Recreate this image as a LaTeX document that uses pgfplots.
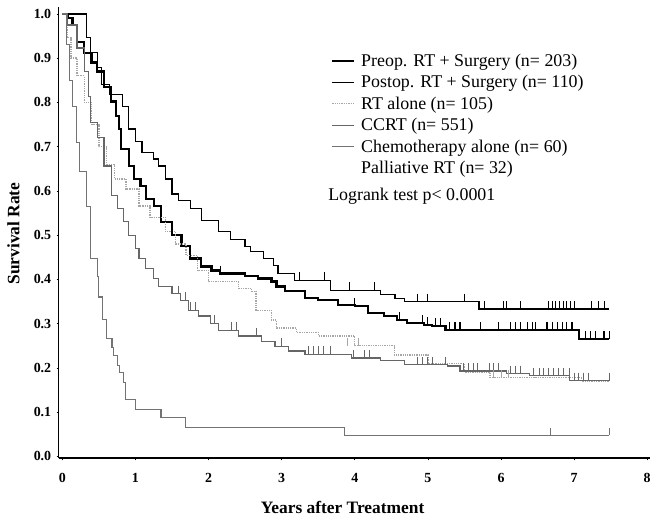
\documentclass[border=0pt]{standalone}
\usepackage{fontspec}
\setmainfont{Liberation Serif}
\usepackage{pgfplots}
\pgfplotsset{compat=1.18}
\begin{document}
\begin{tikzpicture}
\begin{axis}[
  name=ax,
  scale only axis, width=595pt, height=454pt,
  xmin=-0.05, xmax=8.04, ymin=-0.0045, ymax=1.0157,
  axis x line=bottom, axis y line=left,
  axis line style={-, line width=1.6pt},
  xtick={0,1,...,8}, ytick={0,0.1,...,1.0},
  tick style={black, line width=0.6pt}, tick align=outside, major tick length=2pt,
  tick label style={font=\fontsize{14}{14}\selectfont\bfseries},
  /pgf/number format/assume math mode=true,
  yticklabel style={xshift=-2pt, /pgf/number format/.cd, fixed, fixed zerofill, precision=1},
  xticklabel style={yshift=-10pt, /pgf/number format/.cd, fixed, precision=0},
  xlabel={Years after Treatment}, ylabel={Survival Rate},
  label style={font=\fontsize{17.5}{17.5}\selectfont\bfseries},
  xlabel style={at={(axis description cs:0.48,-0.110)}, anchor=center},
  ylabel style={at={(axis description cs:-0.0765,0.498)}, anchor=center},
  legend style={at={(axis cs:3.675,0.915)}, anchor=north west, draw=none, fill=none,
    inner sep=0pt, font=\fontsize{18}{18}\selectfont, row sep=3.7pt},
  legend cell align=left,
  legend image code/.code={\draw[#1] (0pt,0pt) -- (22pt,0pt); \path (26pt,0pt);},
]
% Preop RT + Surgery
\addplot[const plot, black, line width=2.2pt] coordinates {
(0,1.000)(0.07,0.990)(0.14,0.975)(0.20,0.937)(0.30,0.912)(0.40,0.890)(0.48,0.870)
(0.57,0.834)(0.67,0.802)(0.73,0.770)(0.78,0.740)(0.80,0.694)(0.91,0.656)(0.98,0.627)
(1.07,0.611)(1.14,0.582)(1.25,0.566)(1.35,0.530)(1.50,0.500)(1.63,0.476)(1.75,0.447)
(1.90,0.429)(2.04,0.420)(2.16,0.413)(2.50,0.407)(2.68,0.402)(2.86,0.395)(2.93,0.384)
(3.05,0.373)(3.32,0.357)(3.50,0.353)(3.77,0.342)(4.00,0.339)(4.18,0.324)(4.40,0.317)
(4.58,0.308)(4.72,0.301)(4.95,0.297)(5.06,0.294)(5.24,0.285)(7.07,0.265)(7.48,0.265)};
\addlegendentry{Preop. RT + Surgery (n= 203)}
% Postop RT + Surgery
\addplot[const plot, black, line width=1.2pt] coordinates {
(0,1.000)(0.33,0.946)(0.39,0.912)(0.48,0.879)(0.54,0.840)(0.64,0.818)(0.82,0.790)
(0.90,0.740)(1.00,0.712)(1.09,0.687)(1.25,0.672)(1.32,0.656)(1.41,0.627)(1.50,0.593)
(1.59,0.578)(1.75,0.560)(1.90,0.533)(2.14,0.508)(2.30,0.490)(2.50,0.474)(2.57,0.463)
(2.75,0.447)(2.89,0.431)(2.95,0.413)(3.18,0.398)(3.67,0.375)(4.35,0.366)(4.55,0.356)
(4.68,0.350)(5.70,0.333)(7.48,0.333)};
\addlegendentry{Postop. RT + Surgery (n= 110)}
% RT alone
\addplot[const plot, black!35, densely dotted, line width=1.3pt] coordinates {
(0,1.000)(0.07,0.946)(0.12,0.900)(0.20,0.860)(0.30,0.800)(0.40,0.750)(0.50,0.700)
(0.60,0.660)(0.71,0.627)(0.87,0.604)(1.05,0.566)(1.20,0.540)(1.41,0.508)(1.55,0.480)
(1.69,0.454)(1.85,0.420)(2.00,0.395)(2.41,0.380)(2.59,0.373)(2.65,0.330)(2.86,0.308)
(2.93,0.290)(3.20,0.280)(3.50,0.272)(4.00,0.250)(4.54,0.229)(5.00,0.210)(5.50,0.190)
(5.85,0.178)(7.10,0.170)(7.48,0.170)};
\addlegendentry{RT alone (n= 105)}
% CCRT
\addplot[const plot, black!60, line width=1.2pt] coordinates {
(0,1.000)(0.07,0.975)(0.20,0.923)(0.30,0.870)(0.36,0.814)(0.39,0.755)(0.48,0.721)
(0.57,0.656)(0.67,0.589)(0.75,0.560)(0.84,0.530)(0.91,0.500)(1.00,0.470)(1.05,0.447)
(1.14,0.425)(1.25,0.402)(1.32,0.384)(1.50,0.368)(1.62,0.353)(1.73,0.330)(1.86,0.317)
(2.03,0.301)(2.14,0.285)(2.41,0.272)(2.72,0.260)(2.91,0.249)(3.09,0.238)(3.32,0.231)
(3.95,0.222)(4.35,0.216)(4.68,0.207)(5.27,0.204)(5.44,0.193)(6.08,0.187)(6.39,0.182)
(6.94,0.171)(7.48,0.171)};
\addlegendentry{CCRT (n= 551)}
% Chemotherapy alone
\addplot[const plot, black!55, line width=1.1pt] coordinates {
(0,1.000)(0.06,0.930)(0.10,0.850)(0.14,0.790)(0.19,0.710)(0.23,0.643)(0.33,0.564)
(0.39,0.447)(0.48,0.407)(0.50,0.360)(0.55,0.310)(0.60,0.267)(0.68,0.245)(0.70,0.227)
(0.75,0.205)(0.78,0.189)(0.84,0.166)(0.87,0.128)(1.00,0.106)(1.35,0.088)(1.69,0.065)
(3.86,0.047)(7.48,0.047)};
\addlegendentry{Chemotherapy alone (n= 60)}
\addlegendimage{draw opacity=0}
\addlegendentry{Palliative RT (n= 32)}
% censor marks
\addplot[forget plot, only marks, mark=|, mark size=4pt, mark options={black, line width=1.2pt, yshift=4pt}] coordinates {
(1.50,0.500)(2.16,0.413)(4.00,0.339)(4.18,0.324)(4.61,0.308)(4.93,0.301)(4.99,0.297)
(5.10,0.294)(5.17,0.294)(5.30,0.285)(5.37,0.285)(5.44,0.285)(5.72,0.285)(5.97,0.285)
(6.13,0.285)(6.20,0.285)(6.27,0.285)(6.36,0.285)(6.43,0.285)(6.47,0.285)(6.63,0.285)
(6.70,0.285)(6.77,0.285)(6.84,0.285)(6.90,0.285)(6.97,0.285)(7.16,0.265)(7.22,0.265)
(7.29,0.265)(7.41,0.265)(7.48,0.265)};
\addplot[forget plot, only marks, mark=|, mark size=4pt, mark options={black, line width=0.9pt, yshift=4pt}] coordinates {
(3.25,0.398)(3.59,0.398)(3.93,0.375)(4.27,0.375)(4.86,0.350)(5.00,0.350)(5.50,0.350)
(5.77,0.333)(6.03,0.333)(6.08,0.333)(6.27,0.333)(6.65,0.333)(6.70,0.333)(6.75,0.333)
(6.80,0.333)(6.85,0.333)(6.90,0.333)(6.95,0.333)(7.00,0.333)(7.24,0.333)(7.33,0.333)
(7.42,0.333)};
\addplot[forget plot, only marks, mark=|, mark size=4pt, mark options={black!60, line width=0.9pt, yshift=4pt}] coordinates {
(1.59,0.368)(1.68,0.353)(1.75,0.330)(1.82,0.330)(2.08,0.301)(2.31,0.285)(2.38,0.285)
(2.66,0.272)(3.00,0.249)(3.36,0.231)(3.43,0.231)(3.50,0.231)(3.57,0.231)(3.67,0.231)
(3.98,0.222)(4.13,0.222)(4.20,0.222)(4.86,0.207)(4.93,0.207)(5.00,0.207)(5.06,0.207)
(5.24,0.207)(5.48,0.193)(5.55,0.193)(5.62,0.193)(5.68,0.193)(5.84,0.193)(5.90,0.193)
(5.97,0.193)(6.13,0.187)(6.20,0.187)(6.27,0.187)(6.45,0.182)(6.52,0.182)(6.58,0.182)
(6.65,0.182)(6.72,0.182)(6.79,0.182)(6.86,0.182)(6.93,0.182)(7.00,0.171)(7.06,0.171)
(7.13,0.171)(7.20,0.171)(7.48,0.171)};
\addplot[forget plot, only marks, mark=|, mark size=4pt, mark options={black!35, line width=0.9pt, yshift=4pt}] coordinates {
(3.90,0.250)(4.05,0.250)(5.90,0.178)(6.00,0.178)(6.10,0.178)};
\addplot[forget plot, only marks, mark=|, mark size=4pt, mark options={black!55, line width=0.9pt, yshift=4pt}] coordinates {
(6.67,0.047)(7.48,0.047)};
\end{axis}
\node[anchor=west, inner sep=0pt, font=\fontsize{18}{18}\selectfont] at ([shift={(271pt,264pt)}]ax.south west) {Logrank test p< 0.0001};
\path ([shift={(-59pt,-62pt)}]ax.south west) rectangle ++(654pt,523pt);
\end{tikzpicture}
\end{document}
